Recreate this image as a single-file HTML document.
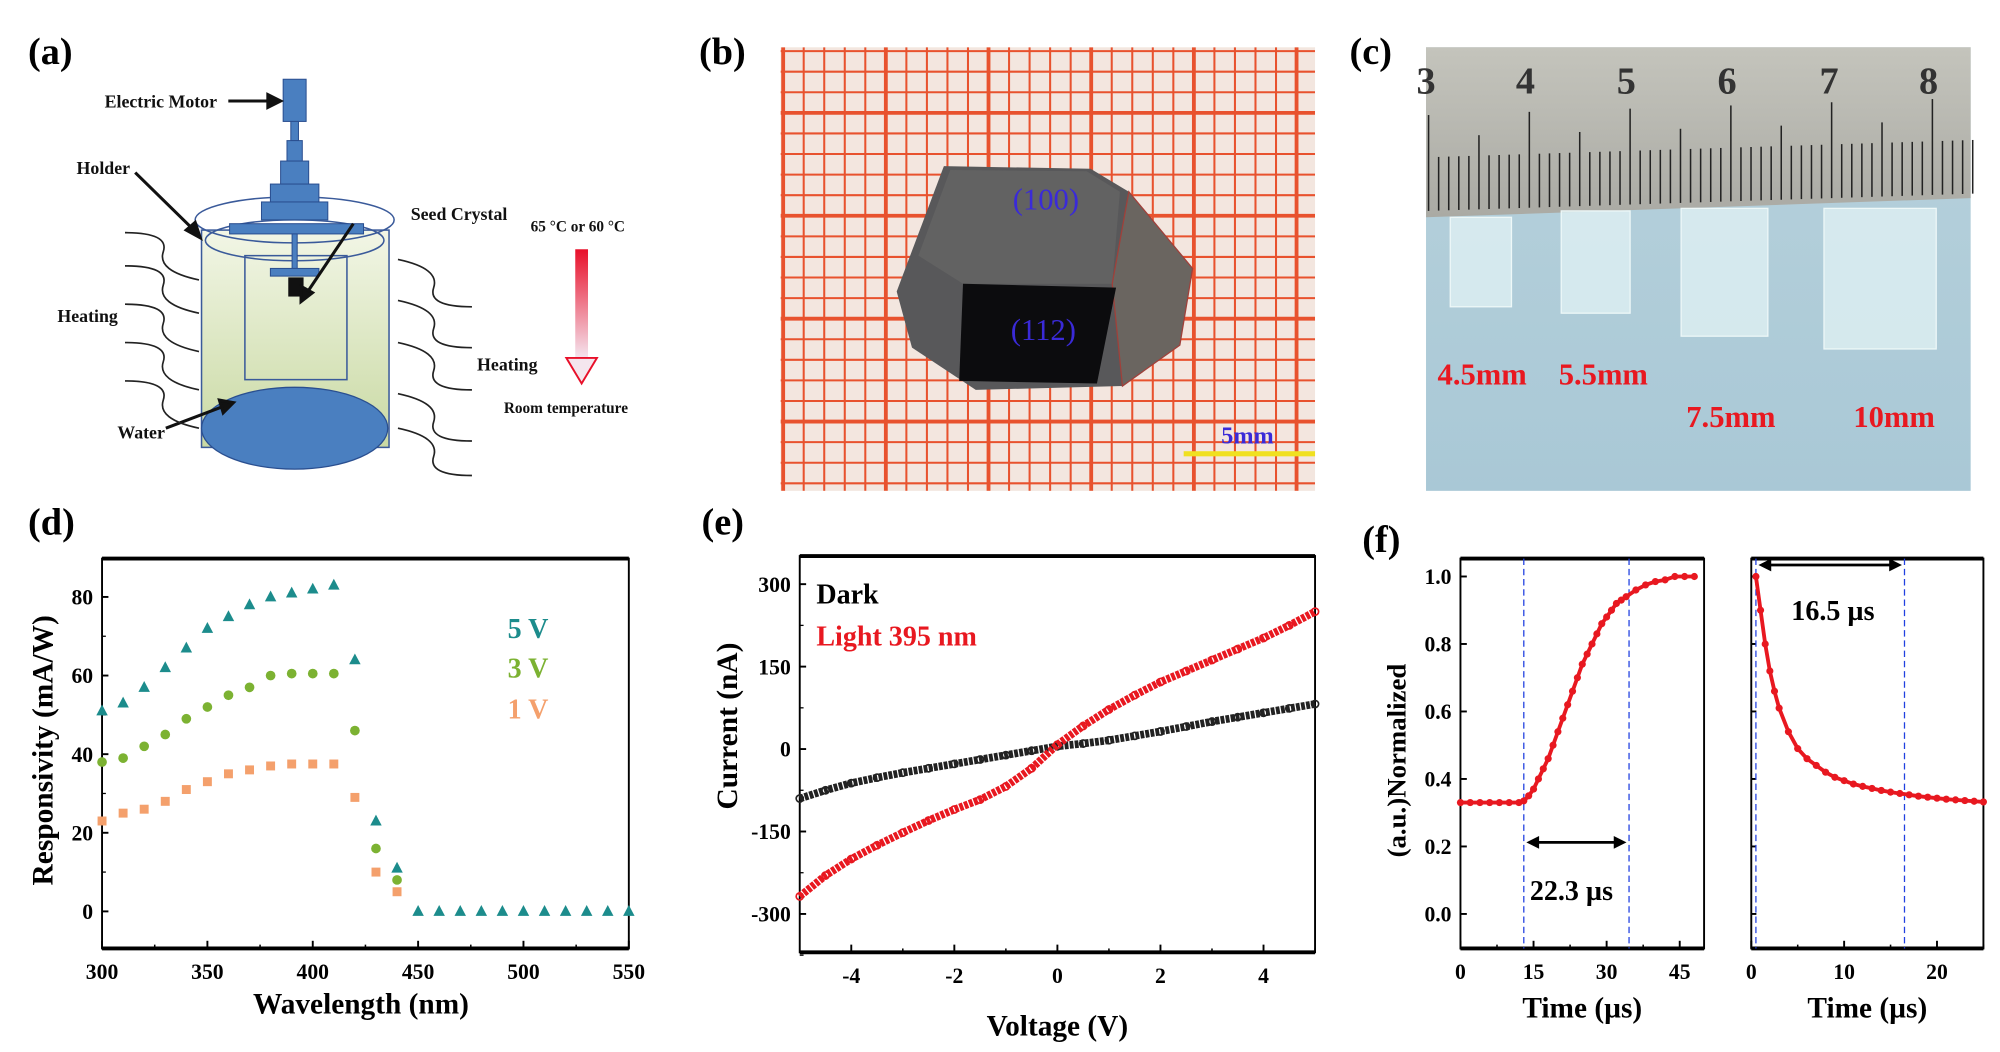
<!DOCTYPE html>
<html><head><meta charset="utf-8"><style>
html,body{margin:0;padding:0;background:#fff;}
svg{display:block;}
text{font-family:"Liberation Serif",serif;font-weight:bold;}
</style></head><body>
<svg id="fig" width="2000" height="1052" viewBox="0 0 1568 823" preserveAspectRatio="none" xmlns="http://www.w3.org/2000/svg">
<defs>
<linearGradient id="cylg" x1="0" y1="0" x2="0" y2="1"><stop offset="0" stop-color="#f2f6e6"/><stop offset="1" stop-color="#c9d9a3"/></linearGradient>
<linearGradient id="redarr" x1="0" y1="0" x2="0" y2="1"><stop offset="0" stop-color="#e8102a"/><stop offset="1" stop-color="#f4e4ee"/></linearGradient>
<linearGradient id="ruler" x1="0" y1="0" x2="0" y2="1"><stop offset="0" stop-color="#c4c4bc"/><stop offset="1" stop-color="#aaaaa4"/></linearGradient>
<linearGradient id="bluebg" x1="0" y1="0" x2="0" y2="1"><stop offset="0" stop-color="#b8d2dc"/><stop offset="1" stop-color="#a9c8d6"/></linearGradient>
<clipPath id="clipb"><rect x="612" y="37" width="419" height="347"/></clipPath>
</defs>

<!-- Panel (a) -->
<g>
<text x="22" y="50" font-size="30">(a)</text>
<rect x="158" y="180" width="147" height="170" fill="url(#cylg)" stroke="#3a5a9a" stroke-width="1.2"/>
<rect x="192" y="200" width="80" height="97" fill="none" stroke="#3a5a9a" stroke-width="1.2"/>
<ellipse cx="231" cy="335" rx="73" ry="32" fill="#4a7fc0" stroke="#2a4f90"/>
<ellipse cx="231" cy="172" rx="78" ry="18" fill="none" stroke="#3a5a9a" stroke-width="1.2"/>
<ellipse cx="231" cy="188" rx="70" ry="16" fill="none" stroke="#3a5a9a" stroke-width="1.2"/>
<g fill="#4a7fc0" stroke="#2a4f90" stroke-width="0.8">
<rect x="222" y="62" width="18" height="33"/><rect x="228" y="95" width="6" height="15"/>
<rect x="225" y="110" width="12" height="16"/><rect x="220" y="126" width="22" height="18"/>
<rect x="212" y="144" width="38" height="14"/><rect x="205" y="158" width="52" height="14"/>
<rect x="180" y="175" width="105" height="8"/><rect x="229" y="183" width="4" height="30"/>
<rect x="212" y="210" width="38" height="6"/>
</g>
<rect x="226" y="217" width="12" height="15" fill="#111"/>
<g stroke="#111" stroke-width="2.4" fill="#111">
<line x1="179" y1="79" x2="212" y2="79"/><polygon points="220,79 210,74 210,84"/>
<line x1="106" y1="135" x2="152" y2="180"/><polygon points="157,186 146,180 153,174"/>
<line x1="277" y1="175" x2="240" y2="230"/><polygon points="236,236 236,224 245,229"/>
<line x1="130" y1="335" x2="175" y2="318"/><polygon points="183,315 172,313 175,323"/>
</g>
<g fill="none" stroke="#222" stroke-width="1.3">
<path d="M98,182 q35,0 30,15 q-5,15 28,22"/><path d="M98,208 q35,0 30,15 q-5,15 28,22"/><path d="M98,238 q35,0 30,15 q-5,15 28,22"/><path d="M98,268 q35,0 30,15 q-5,15 28,22"/><path d="M98,298 q35,0 30,15 q-5,15 28,22"/>
<path d="M370,240 q-35,0 -30,-15 q5,-15 -28,-22"/><path d="M370,272 q-35,0 -30,-15 q5,-15 -28,-22"/><path d="M370,305 q-35,0 -30,-15 q5,-15 -28,-22"/><path d="M370,345 q-35,0 -30,-15 q5,-15 -28,-22"/><path d="M370,372 q-35,0 -30,-15 q5,-15 -28,-22"/>
</g>
<g font-size="14" fill="#111" style="font-family:'Liberation Sans',sans-serif;font-weight:bold">
<text x="82" y="84">Electric Motor</text>
<text x="60" y="136">Holder</text>
<text x="322" y="172">Seed Crystal</text>
<text x="416" y="181" font-size="12">65 °C or 60 °C</text>
<text x="45" y="252">Heating</text>
<text x="374" y="290">Heating</text>
<text x="92" y="343">Water</text>
<text x="395" y="323" font-size="12">Room temperature</text>
</g>
<rect x="451" y="195" width="10" height="85" fill="url(#redarr)"/>
<polygon points="444,280 468,280 456,300" fill="#f4e6ee" stroke="#e8102a" stroke-width="1.5"/>
</g>

<!-- Panel (b) -->
<g>
<text x="548" y="50" font-size="30">(b)</text>
<rect x="612" y="37" width="419" height="347" fill="#f3e6df"/>
<g id="gridb" stroke="#e8522e" clip-path="url(#clipb)"></g>
<polygon points="740,130 855,132 885,150 935,210 925,270 880,302 765,305 715,272 703,228" fill="#58585a"/>
<polygon points="745,133 852,134 878,150 872,222 755,222 720,200" fill="#626262"/>
<polygon points="885,150 935,210 925,270 880,302 872,222" fill="#6a6560" stroke="#a0403a" stroke-width="1"/>
<polygon points="755,222 875,225 860,300 752,298" fill="#0c0c0e"/>
<text x="820" y="164" font-size="24" fill="#3a2ad8" text-anchor="middle" style="font-weight:normal">(100)</text>
<text x="818" y="266" font-size="24" fill="#3a2ad8" text-anchor="middle" style="font-weight:normal">(112)</text>
<text x="978" y="347" font-size="19" fill="#3a2ad8" text-anchor="middle">5mm</text>
<rect x="928" y="353" width="103" height="4" fill="#f0e020"/>
</g>

<!-- Panel (c) -->
<g>
<text x="1058" y="50" font-size="30">(c)</text>
<rect x="1118" y="37" width="427" height="347" fill="url(#bluebg)"/>
<polygon points="1118,37 1545,37 1545,155 1118,170" fill="url(#ruler)"/>
<g id="rticks" stroke="#222" stroke-width="1.2"></g>
<g font-size="30" fill="#333" style="font-weight:normal" text-anchor="middle">
<text x="1118" y="73">3</text><text x="1196" y="73">4</text><text x="1275" y="73">5</text><text x="1354" y="73">6</text><text x="1434" y="73">7</text><text x="1512" y="73">8</text>
</g>
<g fill="#dff0f2" fill-opacity="0.8" stroke="#eef8f8">
<rect x="1137" y="170" width="48" height="70"/><rect x="1224" y="165" width="54" height="80"/>
<rect x="1318" y="163" width="68" height="100"/><rect x="1430" y="163" width="88" height="110"/>
</g>
<g font-size="24" fill="#e81820" text-anchor="middle">
<text x="1162" y="301">4.5mm</text>
<text x="1257" y="301">5.5mm</text>
<text x="1357" y="334">7.5mm</text>
<text x="1485" y="334">10mm</text>
</g>
</g>

<text x="22" y="418" font-size="30">(d)</text>
<text x="550" y="418" font-size="30">(e)</text>
<text x="1068" y="432" font-size="30">(f)</text>

<g id="chartD"></g>
<g id="chartE"></g>
<g id="chartF1"></g>
<g id="chartF2"></g>
</svg>
<script>
// ---- Panel (d) data ----
const wavelengths = [300,310,320,330,340,350,360,370,380,390,400,410,420,430,440,450,460,470,480,490,500,510,520,530,540,550];
const resp5V = [51,53,57,62,67,72,75,78,80,81,82,83,64,23,11,0,0,0,0,0,0,0,0,0,0,0];
const resp3V = [38,39,42,45,49,52,55,57,60,60.5,60.5,60.5,46,16,8,0,0,0,0,0,0,0,0,0,0,0];
const resp1V = [23,25,26,28,31,33,35,36,37,37.5,37.5,37.5,29,10,5,0,0,0,0,0,0,0,0,0,0,0];
const dXTicks = [300,350,400,450,500,550];
const dYTicks = [0,20,40,60,80];
// ---- Panel (e) data ----
const voltage = [-5,-4.5,-4,-3.5,-3,-2.5,-2,-1.5,-1,-0.5,0,0.5,1,1.5,2,2.5,3,3.5,4,4.5,5];
const darkCurrent = [-90,-75,-62,-52,-43,-35,-27,-19,-11,-3,5,10,16,24,32,41,50,58,66,74,82];
const lightCurrent = [-268,-230,-200,-175,-152,-130,-110,-92,-68,-35,8,42,72,98,122,142,162,182,202,225,250];
const eXTicks = [-4,-2,0,2,4];
const eYTicks = [-300,-150,0,150,300];
// ---- Panel (f) data ----
const riseTime = [0,2,4,6,8,10,12,13,14,15,16,17,18,19,20,21,22,23,24,25,26,27,28,29,30,31,32,33,34,36,38,40,42,44,46,48];
const riseValue = [0.33,0.33,0.33,0.33,0.33,0.33,0.33,0.335,0.35,0.37,0.40,0.43,0.46,0.50,0.54,0.58,0.62,0.66,0.70,0.74,0.77,0.80,0.83,0.86,0.88,0.90,0.92,0.93,0.94,0.96,0.975,0.985,0.99,1.0,1.0,1.0];
const decayTime = [0.5,1,1.5,2,2.5,3,4,5,6,7,8,9,10,11,12,13,14,15,16,17,18,19,20,21,22,23,24,25];
const decayValue = [1.0,0.9,0.8,0.72,0.66,0.61,0.54,0.49,0.46,0.44,0.42,0.405,0.395,0.385,0.378,0.372,0.366,0.361,0.357,0.353,0.349,0.346,0.343,0.34,0.338,0.336,0.334,0.332];
const f1XTicks = [0,15,30,45];
const f2XTicks = [0,10,20];
const fYTicks = [0,0.2,0.4,0.6,0.8,1.0];

const NS='http://www.w3.org/2000/svg';
function mk(parent, tag, attrs, txt){const e=document.createElementNS(NS,tag);for(const k in attrs)e.setAttribute(k,attrs[k]);if(txt!==undefined)e.textContent=txt;parent.appendChild(e);return e;}
function lin(d0,d1,r0,r1){return v=>r0+(v-d0)*(r1-r0)/(d1-d0);}

(function(){const g=document.getElementById('gridb');
for(let i=0;i<=26;i++){const x=614+i*16.1;mk(g,'line',{x1:x,y1:37,x2:x,y2:384,'stroke-width':i%5==0?3:1.6});}
for(let j=0;j<=21;j++){const y=40+j*16.1;mk(g,'line',{x1:612,y1:y,x2:1031,y2:y,'stroke-width':j%5==3?3:1.6});}
const r=document.getElementById('rticks');
for(let i=0;i<=54;i++){const x=1120+i*7.9;const h=i%10==0?75:(i%5==0?58:42);mk(r,'line',{x1:x,y1:165-i*0.25,x2:x,y2:165-i*0.25-h});}
})();

function frame(g,L,R,T,B){
  mk(g,'rect',{x:L,y:T,width:R-L,height:B-T,fill:'none',stroke:'#000','stroke-width':1.5});
  mk(g,'line',{x1:L,y1:T,x2:R,y2:T,stroke:'#000','stroke-width':3});
  mk(g,'line',{x1:L,y1:B,x2:R,y2:B,stroke:'#000','stroke-width':3});
}
function xticks(g,ticks,sx,B,minor){ticks.forEach(t=>{const x=sx(t);
  const l=mk(g,'line',{x1:x,y1:B,x2:x,y2:B-6,stroke:'#000','stroke-width':1.5});
  
  
  const tx=mk(g,'text',{x:x,y:B+24,'font-size':17,'text-anchor':'middle'},String(t));
  
  });
  (minor||[]).forEach(t=>{mk(g,'line',{x1:sx(t),y1:B,x2:sx(t),y2:B-3,stroke:'#000','stroke-width':1.2});});}
function yticks(g,ticks,sy,L,fmt){ticks.forEach(t=>{const y=sy(t);
  mk(g,'line',{x1:L,y1:y,x2:L+5,y2:y,stroke:'#000','stroke-width':1.5});
  const tx=mk(g,'text',{x:L-7,y:y+6,'font-size':17,'text-anchor':'end'},fmt?fmt(t):String(t));
  
  });}

(function(){const g=document.getElementById('chartD');
const L=80,R=493,T=437,B=742;
const sx=lin(300,550,L,R), sy=lin(0,80,713,467);
frame(g,L,R,T,B);
xticks(g,dXTicks,sx,B,[325,375,425,475,525]);
yticks(g,dYTicks,sy,L);
[10,30,50,70].forEach(t=>mk(g,'line',{x1:L,y1:sy(t),x2:L+3,y2:sy(t),stroke:'#000'}));
wavelengths.forEach((w,i)=>{
  if(i<15){const r=mk(g,'rect',{x:sx(w)-3.5,y:sy(resp1V[i])-3.5,width:7,height:7,fill:'#f4a06c'});
    
    
    const c=mk(g,'circle',{cx:sx(w),cy:sy(resp3V[i]),r:3.8,fill:'#7cb232'});
    
    }
  const x=sx(w),y=sy(resp5V[i]);
  const p=mk(g,'polygon',{points:`${x},${y-5} ${x-4.5},${y+3.5} ${x+4.5},${y+3.5}`,fill:'#1c8c8c'});
  
  
});
const l1=mk(g,'text',{x:398,y:499,'font-size':22,fill:'#1c8c8c'},'5 V');
const l2=mk(g,'text',{x:398,y:530,'font-size':22,fill:'#7cb232'},'3 V');
const l3=mk(g,'text',{x:398,y:562,'font-size':22,fill:'#f4a06c'},'1 V');
const xt=mk(g,'text',{x:283,y:793,'font-size':23,'text-anchor':'middle'},'Wavelength (nm)');
const yt=mk(g,'text',{x:0,y:0,'font-size':23,'text-anchor':'middle',transform:'translate(41,587) rotate(-90)'},'Responsivity (mA/W)');
})();

(function(){const g=document.getElementById('chartE');
const L=627,R=1031,T=435,B=745;
const sx=lin(-5,5,L,R), sy=lin(0,300,586,457);
frame(g,L,R,T,B);
xticks(g,eXTicks,sx,B,[-5,-3,-1,1,3,5]);
yticks(g,eYTicks,sy,L);
[-225,-75,75,225,-375].forEach(t=>mk(g,'line',{x1:L,y1:sy(t),x2:L+3,y2:sy(t),stroke:'#000'}));
function series(vals,col,name){
  const pts=voltage.map((v,i)=>sx(v)+','+sy(vals[i])).join(' ');
  const pl=mk(g,'polyline',{points:pts,fill:'none',stroke:col,'stroke-width':6,'stroke-dasharray':'3 1'});
  
  
  voltage.forEach((v,i)=>{const c=mk(g,'circle',{cx:sx(v),cy:sy(vals[i]),r:2.8,fill:'none',stroke:col,'stroke-width':1.3});
    
    });
}
series(darkCurrent,'#222','dark');
series(lightCurrent,'#e81820','light');
const a=mk(g,'text',{x:640,y:472,'font-size':22},'Dark');
const b=mk(g,'text',{x:640,y:505,'font-size':22,fill:'#e81820'},'Light 395 nm');
const xt=mk(g,'text',{x:829,y:810,'font-size':23,'text-anchor':'middle'},'Voltage (V)');
const yt=mk(g,'text',{x:0,y:0,'font-size':23,'text-anchor':'middle',transform:'translate(578,568) rotate(-90)'},'Current (nA)');
})();

function fpanel(id,L,R,xmax,xt,times,vals,dash,arrowY,label,lx,ly,showY,minor){
  const g=document.getElementById(id);const T=437,B=742;
  const sx=lin(0,xmax,L,R), sy=lin(0,1,715,451);
  frame(g,L,R,T,B);
  xticks(g,xt,sx,B,minor);
  if(showY){yticks(g,fYTicks,sy,L,t=>t.toFixed(1));}
  else{fYTicks.forEach(t=>mk(g,'line',{x1:L,y1:sy(t),x2:L+4,y2:sy(t),stroke:'#000','stroke-width':1.5}));}
  dash.forEach(d=>{const l=mk(g,'line',{x1:sx(d),y1:T,x2:sx(d),y2:B,stroke:'#2040e0','stroke-width':1,'stroke-dasharray':'5 3'});
    });
  const pts=times.map((t,i)=>sx(t)+','+sy(vals[i])).join(' ');
  mk(g,'polyline',{points:pts,fill:'none',stroke:'#e81820','stroke-width':3});
  times.forEach((t,i)=>{const c=mk(g,'circle',{cx:sx(t),cy:sy(vals[i]),r:2.8,fill:'#e81820'});
    });
  const x1=sx(dash[0])+2,x2=sx(dash[1])-2;
  mk(g,'line',{x1:x1+8,y1:arrowY,x2:x2-8,y2:arrowY,stroke:'#000','stroke-width':2.2});
  mk(g,'polygon',{points:`${x1},${arrowY} ${x1+10},${arrowY-5} ${x1+10},${arrowY+5}`,fill:'#000'});
  mk(g,'polygon',{points:`${x2},${arrowY} ${x2-10},${arrowY-5} ${x2-10},${arrowY+5}`,fill:'#000'});
  const tl=mk(g,'text',{x:lx,y:ly,'font-size':22,'text-anchor':'middle'},label);
  const xa=mk(g,'text',{x:(L+R)/2,y:796,'font-size':23,'text-anchor':'middle'},'Time (\u00b5s)');
}
fpanel('chartF1',1145,1336,50,f1XTicks,riseTime,riseValue,[13,34.6],659,'22.3 \u00b5s',1232,704,true,[7.5,22.5,37.5]);
fpanel('chartF2',1373,1555,25,f2XTicks,decayTime,decayValue,[0.5,16.5],442,'16.5 \u00b5s',1437,485,false,[5,15,25]);
(function(){const g=document.getElementById('chartF1');
const yt=mk(g,'text',{x:0,y:0,'font-size':21,'text-anchor':'middle',transform:'translate(1102,595) rotate(-90)'},'(a.u.)Normalized');
})();
</script>
</body></html>
